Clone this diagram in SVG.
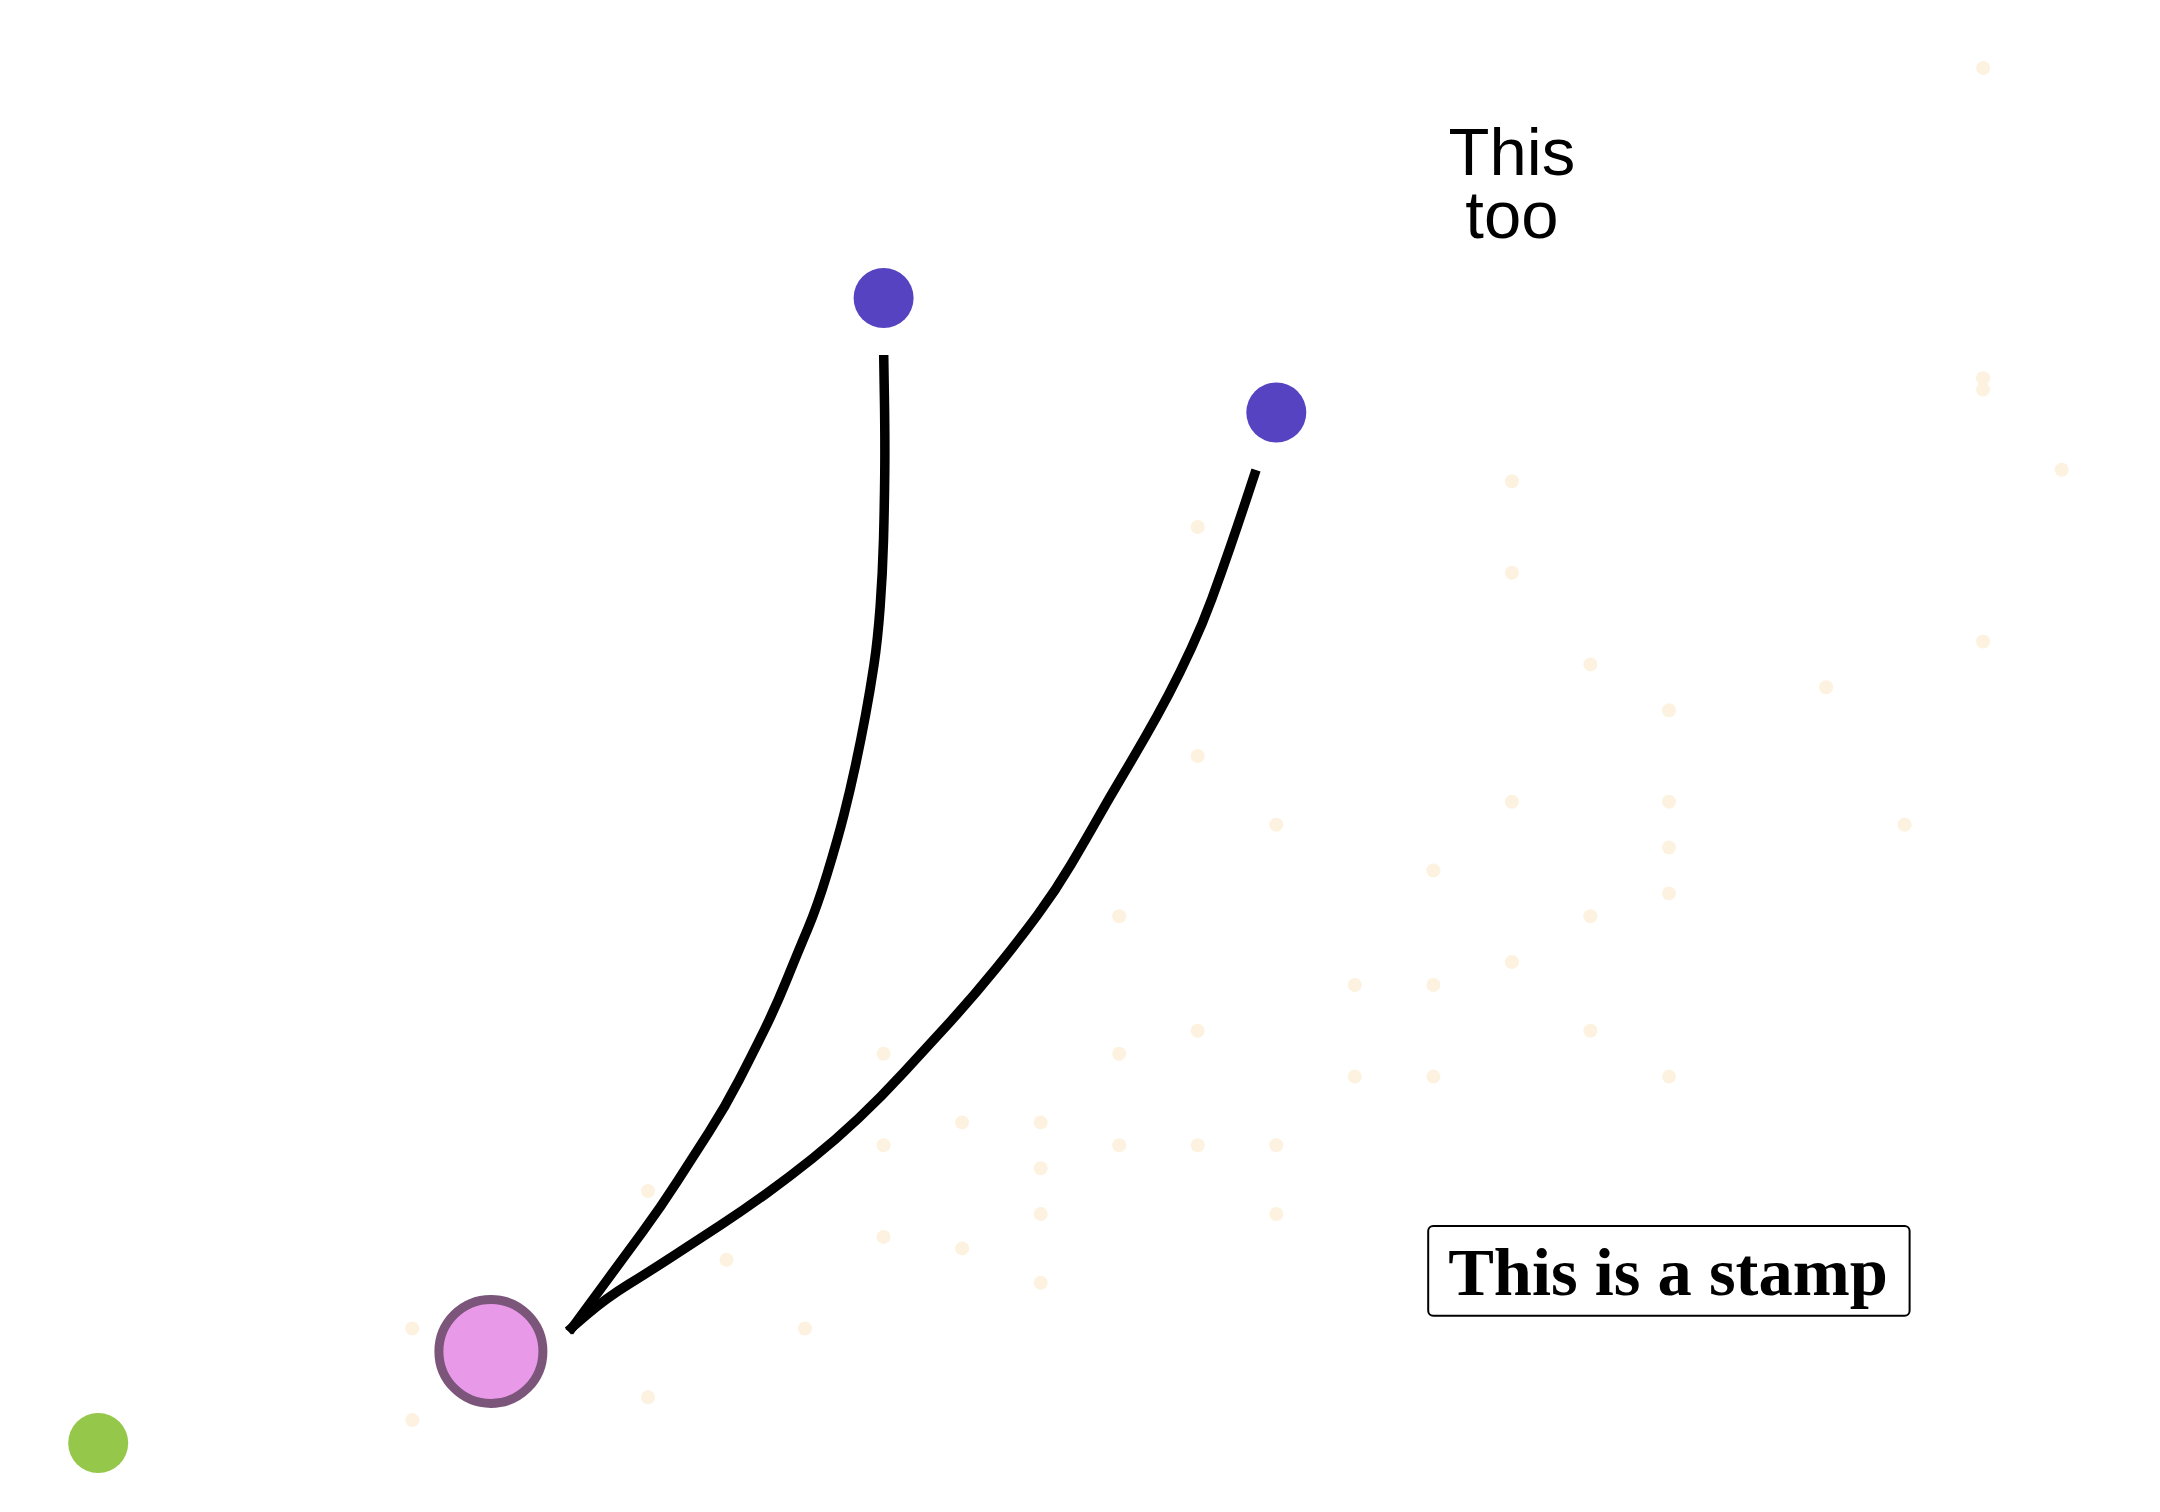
<svg xmlns="http://www.w3.org/2000/svg" width="2160" height="1512" viewBox="0 0 2160 1512">
<style>
.pt{fill:#FCF2DF}
.hl{fill:#5643C1}
.edge{fill:none;stroke:#000;stroke-width:9.5;stroke-linecap:butt;stroke-linejoin:round}
.lbl{font-family:"Liberation Sans",Arial,sans-serif;font-size:67px;fill:#000}
.stamp{font-family:"Liberation Serif","Times New Roman",serif;font-weight:bold;font-size:68.5px;fill:#000}
</style>
<rect width="2160" height="1512" fill="#fff"/>
<g id="points">
<circle class="pt" cx="1983.1" cy="68" r="7"/>
<circle class="pt" cx="1983.1" cy="378.2" r="7"/>
<circle class="pt" cx="1983.1" cy="389.6" r="7"/>
<circle class="pt" cx="2061.7" cy="469.8" r="7"/>
<circle class="pt" cx="1511.9" cy="481.2" r="7"/>
<circle class="pt" cx="1197.7" cy="527" r="7"/>
<circle class="pt" cx="1511.9" cy="572.8" r="7"/>
<circle class="pt" cx="1983.1" cy="641.5" r="7"/>
<circle class="pt" cx="1590.4" cy="664.4" r="7"/>
<circle class="pt" cx="1826.1" cy="687.3" r="7"/>
<circle class="pt" cx="1669" cy="710.2" r="7"/>
<circle class="pt" cx="1197.7" cy="756" r="7"/>
<circle class="pt" cx="1511.9" cy="801.8" r="7"/>
<circle class="pt" cx="1669" cy="801.8" r="7"/>
<circle class="pt" cx="1276.3" cy="824.7" r="7"/>
<circle class="pt" cx="1904.6" cy="824.7" r="7"/>
<circle class="pt" cx="1669" cy="847.6" r="7"/>
<circle class="pt" cx="1433.4" cy="870.5" r="7"/>
<circle class="pt" cx="1669" cy="893.4" r="7"/>
<circle class="pt" cx="1119.2" cy="916.3" r="7"/>
<circle class="pt" cx="1590.4" cy="916.3" r="7"/>
<circle class="pt" cx="1511.9" cy="962.1" r="7"/>
<circle class="pt" cx="1354.8" cy="985" r="7"/>
<circle class="pt" cx="1433.4" cy="985" r="7"/>
<circle class="pt" cx="1197.7" cy="1030.8" r="7"/>
<circle class="pt" cx="1590.4" cy="1030.8" r="7"/>
<circle class="pt" cx="883.6" cy="1053.7" r="7"/>
<circle class="pt" cx="1119.2" cy="1053.7" r="7"/>
<circle class="pt" cx="1354.8" cy="1076.6" r="7"/>
<circle class="pt" cx="1433.4" cy="1076.6" r="7"/>
<circle class="pt" cx="1669" cy="1076.6" r="7"/>
<circle class="pt" cx="962.1" cy="1122.4" r="7"/>
<circle class="pt" cx="1040.7" cy="1122.4" r="7"/>
<circle class="pt" cx="883.6" cy="1145.3" r="7"/>
<circle class="pt" cx="1119.2" cy="1145.3" r="7"/>
<circle class="pt" cx="1197.7" cy="1145.3" r="7"/>
<circle class="pt" cx="1276.3" cy="1145.3" r="7"/>
<circle class="pt" cx="1040.7" cy="1168.2" r="7"/>
<circle class="pt" cx="648" cy="1191.1" r="7"/>
<circle class="pt" cx="1040.7" cy="1214" r="7"/>
<circle class="pt" cx="1276.3" cy="1214" r="7"/>
<circle class="pt" cx="883.6" cy="1236.9" r="7"/>
<circle class="pt" cx="962.1" cy="1248.4" r="7"/>
<circle class="pt" cx="726.5" cy="1259.8" r="7"/>
<circle class="pt" cx="1040.7" cy="1282.7" r="7"/>
<circle class="pt" cx="412.3" cy="1328.5" r="7"/>
<circle class="pt" cx="805" cy="1328.5" r="7"/>
<circle class="pt" cx="648" cy="1397.2" r="7"/>
<circle class="pt" cx="412.3" cy="1420.1" r="7"/>
</g>
<g id="connectors">
<path id="edge-a" class="edge" d="M883.7,355 L884.4,397.5 Q885.1,440 884.75,473.35 Q884.4,506.7 883.5,540 Q882.6,573.3 880.15,606.65 Q877.7,640 873.95,665 Q870.2,690 865.55,715 Q860.9,740 855.55,765 Q850.2,790 843.85,815 Q837.5,840 827.3,873.35 Q817.1,906.7 807.95,928.35 Q798.8,950 787.3,978.35 Q775.8,1006.7 764.3,1030 Q752.8,1053.3 739.05,1080 Q725.3,1106.7 709.2,1131.7 Q693.1,1156.7 677.05,1181.7 Q661,1206.7 642.65,1231.7 Q624.3,1256.7 605.9,1281.7 Q587.5,1306.7 578.35,1319.2 L569.2,1331.7"/>
<path id="edge-b" class="edge" d="M1256,470 L1247.75,495 Q1239.5,520 1230.35,546.65 Q1221.2,573.3 1212,598.3 Q1202.8,623.3 1191.3,648.3 Q1179.8,673.3 1168.35,695 Q1156.9,716.7 1145.4,736.7 Q1133.9,756.7 1121.95,776.7 Q1110,796.7 1097.75,818.35 Q1085.5,840 1070.7,865 Q1055.9,890 1037.5,915 Q1019.1,940 996.15,968.35 Q973.2,996.7 950.25,1021.7 Q927.3,1046.7 904.35,1071.7 Q881.4,1096.7 858.45,1118.35 Q835.5,1140 812.55,1158.35 Q789.6,1176.7 766.65,1193.35 Q743.7,1210 720.7,1225 Q697.7,1240 674.75,1255 Q651.8,1270 628.85,1284.15 Q605.9,1298.3 586.95,1314.65 L568,1331"/>
</g>
<g id="node-green"><circle cx="98.2" cy="1443" r="30" fill="#95C74A"/></g>
<g id="node-pink"><circle cx="490.9" cy="1351.4" r="52" fill="#E899E8" stroke="#7B557A" stroke-width="9"/></g>
<g id="node-blue-1"><circle class="hl" cx="883.6" cy="298" r="30"/></g>
<g id="node-blue-2"><circle class="hl" cx="1276.3" cy="412.5" r="30"/></g>
<g id="label-this-too">
<text class="lbl" text-anchor="middle" x="1511.9" y="175">This</text>
<text class="lbl" text-anchor="middle" x="1511.9" y="238">too</text>
</g>
<g id="label-stamp">
<rect x="1428.2" y="1226" width="481.4" height="89.7" rx="5" fill="#fff" stroke="#000" stroke-width="2"/>
<text class="stamp" text-anchor="middle" x="1668" y="1295">This is a stamp</text>
</g>
</svg>
